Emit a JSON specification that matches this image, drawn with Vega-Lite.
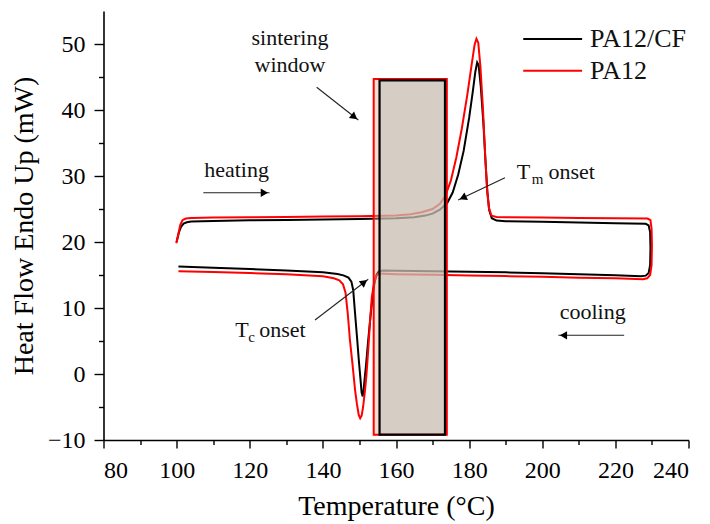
{
  "$schema": "https://vega.github.io/schema/vega-lite/v6.json",
  "width": 585,
  "height": 429,
  "autosize": {"type": "none"},
  "padding": {"left": 103.5, "top": 11, "right": 21.5, "bottom": 84},
  "background": "white",
  "config": {
    "view": {"stroke": null},
    "font": "Liberation Serif",
    "axis": {
      "grid": false,
      "domainColor": "black",
      "domainWidth": 1.6,
      "tickColor": "black",
      "tickWidth": 1.4,
      "labelColor": "black",
      "labelFont": "Liberation Serif",
      "labelFontSize": 24,
      "titleFont": "Liberation Serif",
      "titleFontSize": 28,
      "titleFontWeight": "normal",
      "titleColor": "black"
    }
  },
  "datasets": {
    "curves": [
      {"s":"PA12/CF","t":100,"h":20.0},{"s":"PA12/CF","t":100.6,"h":21.4},{"s":"PA12/CF","t":101.2,"h":22.3},{"s":"PA12/CF","t":101.9,"h":22.8},{"s":"PA12/CF","t":102.8,"h":23.0},{"s":"PA12/CF","t":104,"h":23.1},{"s":"PA12/CF","t":110,"h":23.2},{"s":"PA12/CF","t":120,"h":23.3},{"s":"PA12/CF","t":130,"h":23.35},{"s":"PA12/CF","t":140,"h":23.4},{"s":"PA12/CF","t":150,"h":23.5},{"s":"PA12/CF","t":160,"h":23.6},{"s":"PA12/CF","t":165,"h":23.75},{"s":"PA12/CF","t":168,"h":24.0},{"s":"PA12/CF","t":170,"h":24.3},{"s":"PA12/CF","t":172,"h":24.9},{"s":"PA12/CF","t":174,"h":25.9},{"s":"PA12/CF","t":175.5,"h":27.5},{"s":"PA12/CF","t":177,"h":30.2},{"s":"PA12/CF","t":178.5,"h":33.8},{"s":"PA12/CF","t":180,"h":38.8},{"s":"PA12/CF","t":181,"h":42.8},{"s":"PA12/CF","t":181.7,"h":45.8},{"s":"PA12/CF","t":182.2,"h":47.2},{"s":"PA12/CF","t":182.6,"h":46.8},{"s":"PA12/CF","t":183.2,"h":43.5},{"s":"PA12/CF","t":183.9,"h":38},{"s":"PA12/CF","t":184.5,"h":32},{"s":"PA12/CF","t":185,"h":27.5},{"s":"PA12/CF","t":185.5,"h":24.8},{"s":"PA12/CF","t":186.2,"h":23.6},{"s":"PA12/CF","t":187.5,"h":23.25},{"s":"PA12/CF","t":190,"h":23.15},{"s":"PA12/CF","t":200,"h":23.05},{"s":"PA12/CF","t":210,"h":22.95},{"s":"PA12/CF","t":220,"h":22.85},{"s":"PA12/CF","t":228.3,"h":22.75},{"s":"PA12/CF","t":229.1,"h":22.5},{"s":"PA12/CF","t":229.5,"h":21.5},{"s":"PA12/CF","t":229.6,"h":19},{"s":"PA12/CF","t":229.5,"h":16.5},{"s":"PA12/CF","t":229.1,"h":15.3},{"s":"PA12/CF","t":228.3,"h":14.9},{"s":"PA12/CF","t":227,"h":14.8},
      {"s":"PA12/CF","t":220,"h":14.95},{"s":"PA12/CF","t":210,"h":15.1},{"s":"PA12/CF","t":200,"h":15.25},{"s":"PA12/CF","t":190,"h":15.4},{"s":"PA12/CF","t":180,"h":15.5},{"s":"PA12/CF","t":170,"h":15.58},{"s":"PA12/CF","t":160,"h":15.65},{"s":"PA12/CF","t":156.5,"h":15.68},{"s":"PA12/CF","t":155.3,"h":15.55},{"s":"PA12/CF","t":154.7,"h":15.1},{"s":"PA12/CF","t":154.2,"h":14.0},{"s":"PA12/CF","t":153.8,"h":12.7},{"s":"PA12/CF","t":153.1,"h":9.2},{"s":"PA12/CF","t":152.4,"h":5.15},{"s":"PA12/CF","t":151.8,"h":1.3},{"s":"PA12/CF","t":151.4,"h":-0.9},{"s":"PA12/CF","t":151.1,"h":-2.7},{"s":"PA12/CF","t":150.9,"h":-3.4},{"s":"PA12/CF","t":150.6,"h":-2.8},{"s":"PA12/CF","t":150.3,"h":-0.9},{"s":"PA12/CF","t":149.8,"h":2.3},{"s":"PA12/CF","t":149.4,"h":5.15},{"s":"PA12/CF","t":148.8,"h":9.2},{"s":"PA12/CF","t":148.3,"h":12.7},{"s":"PA12/CF","t":147.8,"h":14.0},{"s":"PA12/CF","t":147,"h":14.6},{"s":"PA12/CF","t":145.6,"h":14.95},{"s":"PA12/CF","t":144,"h":15.15},{"s":"PA12/CF","t":140,"h":15.4},{"s":"PA12/CF","t":130,"h":15.7},{"s":"PA12/CF","t":120,"h":15.9},{"s":"PA12/CF","t":110,"h":16.1},{"s":"PA12/CF","t":100.5,"h":16.3},
      {"s":"PA12","t":99.9,"h":19.8},{"s":"PA12","t":100.5,"h":21.3},{"s":"PA12","t":101,"h":22.6},{"s":"PA12","t":101.6,"h":23.3},{"s":"PA12","t":102.5,"h":23.55},{"s":"PA12","t":104,"h":23.65},{"s":"PA12","t":110,"h":23.7},{"s":"PA12","t":120,"h":23.75},{"s":"PA12","t":130,"h":23.8},{"s":"PA12","t":140,"h":23.85},{"s":"PA12","t":150,"h":23.9},{"s":"PA12","t":160,"h":24.0},{"s":"PA12","t":164,"h":24.2},{"s":"PA12","t":167,"h":24.5},{"s":"PA12","t":170,"h":25.0},{"s":"PA12","t":172,"h":25.8},{"s":"PA12","t":173.5,"h":27.0},{"s":"PA12","t":175,"h":29.3},{"s":"PA12","t":176.5,"h":32.8},{"s":"PA12","t":178,"h":37.2},{"s":"PA12","t":179.5,"h":42.3},{"s":"PA12","t":180.7,"h":46.9},{"s":"PA12","t":181.5,"h":49.9},{"s":"PA12","t":182,"h":50.8},{"s":"PA12","t":182.5,"h":50.2},{"s":"PA12","t":183.1,"h":46.5},{"s":"PA12","t":183.8,"h":40},{"s":"PA12","t":184.4,"h":33},{"s":"PA12","t":184.9,"h":28},{"s":"PA12","t":185.4,"h":25.2},{"s":"PA12","t":186.1,"h":24.0},{"s":"PA12","t":187.5,"h":23.8},{"s":"PA12","t":190,"h":23.75},{"s":"PA12","t":200,"h":23.7},{"s":"PA12","t":210,"h":23.65},{"s":"PA12","t":220,"h":23.6},{"s":"PA12","t":228.8,"h":23.55},{"s":"PA12","t":229.6,"h":23.3},{"s":"PA12","t":229.9,"h":22},{"s":"PA12","t":230,"h":19.5},{"s":"PA12","t":229.9,"h":16.5},{"s":"PA12","t":229.5,"h":15},{"s":"PA12","t":228.7,"h":14.5},{"s":"PA12","t":227.5,"h":14.35},
      {"s":"PA12","t":220,"h":14.5},{"s":"PA12","t":210,"h":14.6},{"s":"PA12","t":200,"h":14.72},{"s":"PA12","t":190,"h":14.83},{"s":"PA12","t":180,"h":14.93},{"s":"PA12","t":170,"h":15.03},{"s":"PA12","t":160,"h":15.13},{"s":"PA12","t":156.5,"h":15.2},{"s":"PA12","t":155.2,"h":15.2},{"s":"PA12","t":154.5,"h":14.8},{"s":"PA12","t":154.0,"h":13.8},{"s":"PA12","t":153.4,"h":11.7},{"s":"PA12","t":152.9,"h":8.0},{"s":"PA12","t":152.4,"h":3.6},{"s":"PA12","t":151.9,"h":-0.3},{"s":"PA12","t":151.5,"h":-2.6},{"s":"PA12","t":151.0,"h":-5.0},{"s":"PA12","t":150.6,"h":-6.3},{"s":"PA12","t":150.2,"h":-6.7},{"s":"PA12","t":149.8,"h":-6.2},{"s":"PA12","t":149.3,"h":-4.5},{"s":"PA12","t":148.8,"h":-2.4},{"s":"PA12","t":148.1,"h":1.5},{"s":"PA12","t":147.4,"h":5.15},{"s":"PA12","t":146.8,"h":9.2},{"s":"PA12","t":146.2,"h":12.3},{"s":"PA12","t":145.5,"h":13.6},{"s":"PA12","t":144.5,"h":14.2},{"s":"PA12","t":143,"h":14.5},{"s":"PA12","t":140,"h":14.8},{"s":"PA12","t":130,"h":15.1},{"s":"PA12","t":120,"h":15.3},{"s":"PA12","t":110,"h":15.45},{"s":"PA12","t":100.5,"h":15.55}
    ],
    "arrows": [
      {"x":107.3,"y":27.47,"x2":125.4,"y2":27.47,"hx":124.0,"hy":27.47,"angle":90},
      {"x":222.4,"y":5.86,"x2":204.4,"y2":5.86,"hx":205.8,"hy":5.86,"angle":270},
      {"x":138.3,"y":43.44,"x2":149.7,"y2":38.48,"hx":148.6,"hy":38.95,"angle":128},
      {"x":189.8,"y":29.74,"x2":177.0,"y2":26.36,"hx":178.3,"hy":26.7,"angle":244.5},
      {"x":137.85,"y":8.18,"x2":152.4,"y2":14.35,"hx":151.3,"hy":13.9,"angle":52.6}
    ],
    "centered": [
      {"x":131.0,"y":49.85,"text":"sintering"},
      {"x":131.0,"y":45.8,"text":"window"},
      {"x":116.4,"y":29.9,"text":"heating"},
      {"x":213.8,"y":8.3,"text":"cooling"}
    ],
    "lefttext": [
      {"x":193.0,"y":29.55,"text":"T"},
      {"x":201.7,"y":29.55,"text":"onset"},
      {"x":116.0,"y":5.56,"text":"T"},
      {"x":122.6,"y":5.56,"text":"onset"}
    ],
    "subs": [
      {"x":197.1,"y":28.8,"text":"m"},
      {"x":119.6,"y":4.9,"text":"c"}
    ],
    "legend": [
      {"s":"PA12/CF","x":194.8,"x2":210.9,"y":50.76,"ly":49.6},
      {"s":"PA12","x":194.8,"x2":210.9,"y":45.95,"ly":44.7}
    ]
  },
  "resolve": {"axis": {"x": "independent", "y": "independent"}},
  "layer": [
    {
      "data": {"name": "curves"},
      "mark": {"type": "line", "strokeWidth": 2, "interpolate": "linear"},
      "encoding": {
        "x": {"field": "t", "type": "quantitative", "scale": {"domain": [80, 240], "nice": false, "zero": false},
              "axis": {"values": [80,100,120,140,160,180,200,220,240], "tickSize": 8, "labelPadding": 10, "title": "Temperature (°C)", "titlePadding": 10}},
        "y": {"field": "h", "type": "quantitative", "scale": {"domain": [-10, 55], "nice": false, "zero": false},
              "axis": {"values": [-10,0,10,20,30,40,50], "tickSize": 9.5, "labelPadding": 9, "title": "Heat Flow Endo Up (mW)", "titlePadding": 9}},
        "color": {"field": "s", "type": "nominal", "scale": {"domain": ["PA12/CF", "PA12"], "range": ["black", "#ff0000"]}, "legend": null},
        "detail": {"field": "s"},
        "order": {"value": null}
      }
    },
    {
      "data": {"values": [{"x": 153.9, "x2": 173.9, "y": -9.2, "y2": 44.7}]},
      "mark": {"type": "rect", "fill": "#e3ac8e", "fillOpacity": 0.4, "stroke": "#ff0000", "strokeWidth": 2},
      "encoding": {
        "x": {"field": "x", "type": "quantitative", "scale": {"domain": [80, 240], "nice": false, "zero": false},
              "axis": {"values": [90,110,130,150,170,190,210,230], "tickSize": 4.5, "labels": false, "domain": false, "title": null, "orient": "bottom"}},
        "x2": {"field": "x2"},
        "y": {"field": "y", "type": "quantitative", "scale": {"domain": [-10, 55], "nice": false, "zero": false},
              "axis": {"values": [-5,5,15,25,35,45], "tickSize": 5, "labels": false, "domain": false, "title": null, "orient": "left"}},
        "y2": {"field": "y2"}
      }
    },
    {
      "data": {"values": [{"x": 155.5, "x2": 173.4, "y": -9.2, "y2": 44.5}]},
      "mark": {"type": "rect", "fill": "#c2c1bb", "fillOpacity": 0.6, "stroke": "black", "strokeWidth": 2.2, "strokeOpacity": 1},
      "encoding": {
        "x": {"field": "x", "type": "quantitative", "axis": null},
        "x2": {"field": "x2"},
        "y": {"field": "y", "type": "quantitative", "axis": null},
        "y2": {"field": "y2"}
      }
    },
    {
      "data": {"name": "arrows"},
      "mark": {"type": "rule", "color": "#222222", "strokeWidth": 1.1},
      "encoding": {
        "x": {"field": "x", "type": "quantitative", "axis": null},
        "y": {"field": "y", "type": "quantitative", "axis": null},
        "x2": {"field": "x2"},
        "y2": {"field": "y2"}
      }
    },
    {
      "data": {"name": "arrows"},
      "mark": {"type": "point", "shape": "triangle-up", "filled": true, "color": "black", "size": 70, "opacity": 1},
      "encoding": {
        "x": {"field": "hx", "type": "quantitative", "axis": null},
        "y": {"field": "hy", "type": "quantitative", "axis": null},
        "angle": {"field": "angle", "type": "quantitative", "scale": null}
      }
    },
    {
      "data": {"name": "centered"},
      "mark": {"type": "text", "font": "Liberation Serif", "fontSize": 22, "align": "center", "baseline": "alphabetic", "color": "#111111"},
      "encoding": {
        "x": {"field": "x", "type": "quantitative", "axis": null},
        "y": {"field": "y", "type": "quantitative", "axis": null},
        "text": {"field": "text"}
      }
    },
    {
      "data": {"name": "lefttext"},
      "mark": {"type": "text", "font": "Liberation Serif", "fontSize": 22, "align": "left", "baseline": "alphabetic", "color": "#111111"},
      "encoding": {
        "x": {"field": "x", "type": "quantitative", "axis": null},
        "y": {"field": "y", "type": "quantitative", "axis": null},
        "text": {"field": "text"}
      }
    },
    {
      "data": {"name": "subs"},
      "mark": {"type": "text", "font": "Liberation Serif", "fontSize": 15, "align": "left", "baseline": "alphabetic", "color": "#111111"},
      "encoding": {
        "x": {"field": "x", "type": "quantitative", "axis": null},
        "y": {"field": "y", "type": "quantitative", "axis": null},
        "text": {"field": "text"}
      }
    },
    {
      "data": {"name": "legend"},
      "mark": {"type": "rule", "strokeWidth": 2},
      "encoding": {
        "x": {"field": "x", "type": "quantitative", "axis": null},
        "x2": {"field": "x2"},
        "y": {"field": "y", "type": "quantitative", "axis": null},
        "color": {"field": "s", "type": "nominal", "legend": null}
      }
    },
    {
      "data": {"name": "legend"},
      "mark": {"type": "text", "font": "Liberation Serif", "fontSize": 26, "align": "left", "baseline": "alphabetic", "color": "#111111", "dx": 8},
      "encoding": {
        "x": {"field": "x2", "type": "quantitative", "axis": null},
        "y": {"field": "ly", "type": "quantitative", "axis": null},
        "text": {"field": "s"}
      }
    }
  ]
}
